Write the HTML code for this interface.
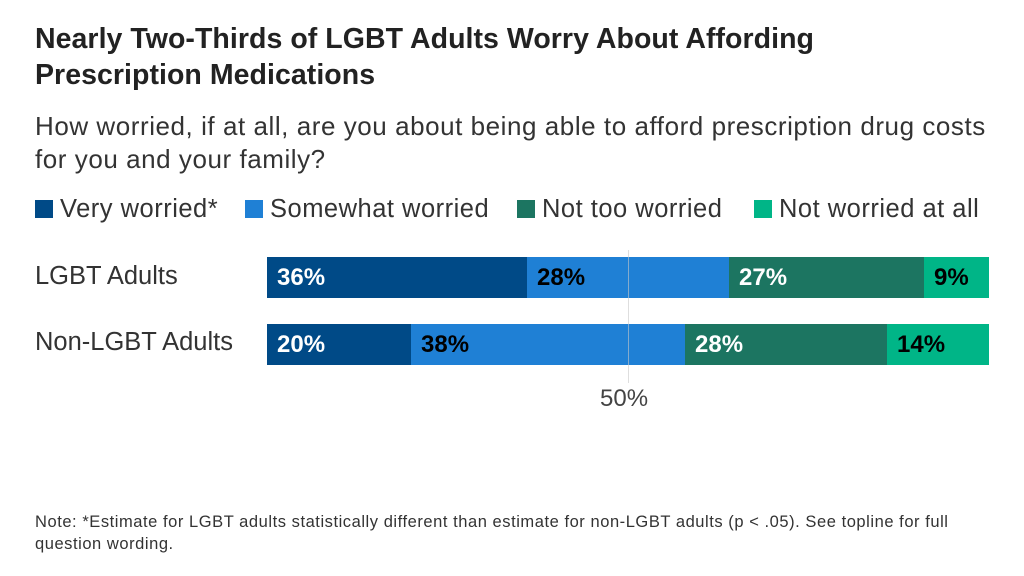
<!DOCTYPE html>
<html><head><meta charset="utf-8"><style>
body{margin:0;width:1024px;height:576px;background:#fff;font-family:"Liberation Sans",sans-serif;position:relative;overflow:hidden;color:#222}
.a{position:absolute;white-space:nowrap}
.t{font-weight:bold;font-size:28.5px;color:#222;left:35px;line-height:36px;letter-spacing:0.05px}
.s{font-size:26px;left:35px;color:#333;line-height:33px;letter-spacing:0.55px}
.lg{top:195px;font-size:25.5px;color:#333;letter-spacing:0.5px}
.sw{display:inline-block;width:18px;height:18px;vertical-align:-1px;margin-right:7px}
.bar{position:absolute;height:41px;box-sizing:border-box;border-right:2px solid #fff;font-size:24px;font-weight:bold;line-height:41px;padding-left:10px}
.c1{background:#004a87;color:#fff}.c2{background:#1f80d5;color:#000}.c3{background:#1c7561;color:#fff}.c4{background:#00b587;color:#000}
</style></head><body>
<div class="a t" style="top:21px">Nearly Two-Thirds of LGBT Adults Worry About Affording<br>Prescription Medications</div>
<div class="a s" style="top:110px">How worried, if at all, are you about being able to afford prescription drug costs<br>for you and your family?</div>
<div class="a lg" style="left:35px"><span class="sw" style="background:#004a87"></span>Very worried*</div>
<div class="a lg" style="left:245px"><span class="sw" style="background:#1f80d5"></span>Somewhat worried</div>
<div class="a lg" style="left:517px"><span class="sw" style="background:#1c7561"></span>Not too worried</div>
<div class="a lg" style="left:754px"><span class="sw" style="background:#00b587"></span>Not worried at all</div>
<div class="a" style="left:35px;top:262px;font-size:25.5px;color:#333">LGBT Adults</div>
<div class="a" style="left:35px;top:328px;font-size:25.5px;color:#333">Non-LGBT Adults</div>
<div class="bar c1" style="left:267px;width:262px;top:257px">36%</div>
<div class="bar c2" style="left:527px;width:204px;top:257px">28%</div>
<div class="bar c3" style="left:729px;width:197px;top:257px">27%</div>
<div class="bar c4" style="left:924px;width:65px;top:257px;border-right:none">9%</div>
<div class="bar c1" style="left:267px;width:146px;top:324px">20%</div>
<div class="bar c2" style="left:411px;width:276px;top:324px">38%</div>
<div class="bar c3" style="left:685px;width:204px;top:324px">28%</div>
<div class="bar c4" style="left:887px;width:102px;top:324px;border-right:none">14%</div>
<div class="a" style="left:628px;top:250px;width:1px;height:133px;background:rgba(200,200,200,0.6)"></div>
<div class="a" style="left:600px;top:385px;font-size:24px;color:#444">50%</div>
<div class="a" style="left:35px;top:511px;font-size:16.5px;color:#333;line-height:22px;letter-spacing:0.55px">Note: *Estimate for LGBT adults statistically different than estimate for non-LGBT adults (p &lt; .05). See topline for full<br>question wording.</div>
</body></html>
